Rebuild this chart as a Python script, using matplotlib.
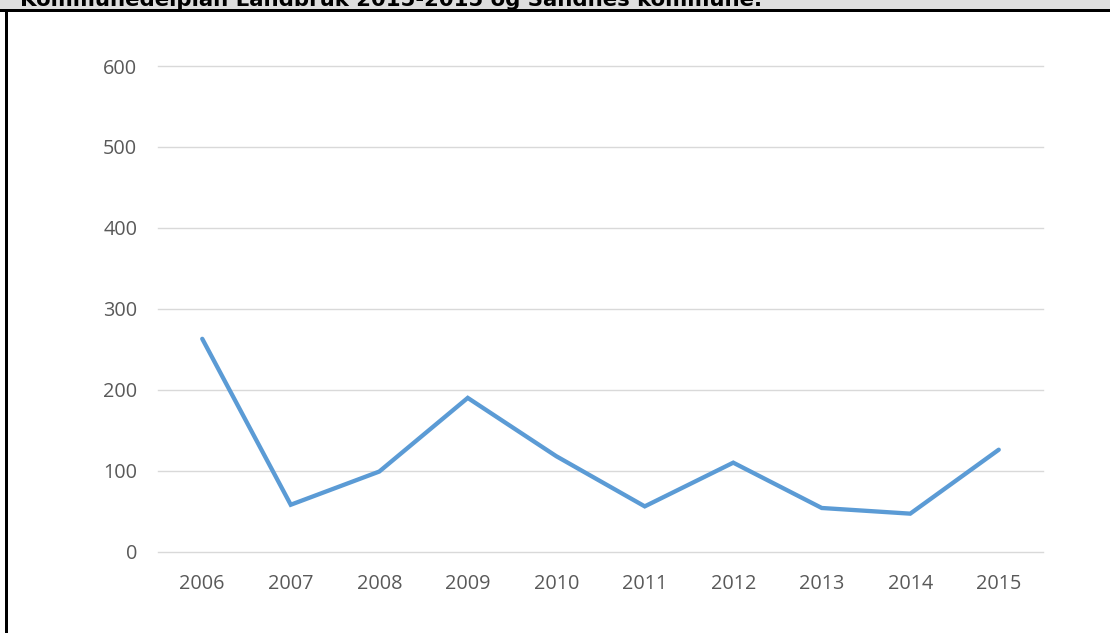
import matplotlib.pyplot as plt
from matplotlib.patches import Rectangle

years = ["2006", "2007", "2008", "2009", "2010", "2011", "2012", "2013", "2014", "2015"]
values = [263, 58, 99, 190, 118, 56, 110, 54, 47, 126]
y_ticks = [0, 100, 200, 300, 400, 500, 600]
title = "Kommunedelplan Landbruk 2015-2015 og Sandnes kommune."

W, H = 1110, 633
fig = plt.figure(figsize=(W / 100, H / 100), dpi=100)

# grå tittelstripe + svarte kanter (tittelen er avkuttet i toppen, som i originalen)
fig.patches.append(Rectangle((0, 1 - 10 / H), 1, 10 / H, transform=fig.transFigure,
                             facecolor="#dedede", edgecolor="none", zorder=0))
fig.patches.append(Rectangle((0, 1 - 11.5 / H), 1, 2.5 / H, transform=fig.transFigure,
                             facecolor="black", edgecolor="none", zorder=1))
fig.patches.append(Rectangle((5 / W, 0), 2.5 / W, 1 - 10 / H, transform=fig.transFigure,
                             facecolor="black", edgecolor="none", zorder=1))
fig.text(20 / W, 1 - 6.5 / H, title, fontsize=15.3, fontweight="bold",
         family="DejaVu Sans", va="baseline", ha="left", color="black")

ax = fig.add_axes([158 / W, (H - 551.7) / H, 885 / W, (551.7 - 66) / H])
x = list(range(len(years)))
ax.plot(x, values, color="#5b9bd5", linewidth=3.1, solid_joinstyle="miter",
        solid_capstyle="round", zorder=3)

ax.set_xlim(-0.5, len(years) - 0.5)
ax.set_ylim(0, 600)
ax.set_xticks(x)
ax.set_xticklabels(years)
ax.set_yticks(y_ticks)
ax.grid(axis="y", color="#d9d9d9", linewidth=1)
for gl in ax.get_ygridlines():
    gl.set_clip_on(False)
ax.set_axisbelow(True)
for s in ax.spines.values():
    s.set_visible(False)
ax.tick_params(length=0, labelsize=14.3, labelcolor="#595959")
ax.tick_params(axis="x", pad=16)
ax.tick_params(axis="y", pad=15)
for lab in ax.get_xticklabels() + ax.get_yticklabels():
    lab.set_family("Open Sans")

fig.savefig("out.png", dpi=100)
